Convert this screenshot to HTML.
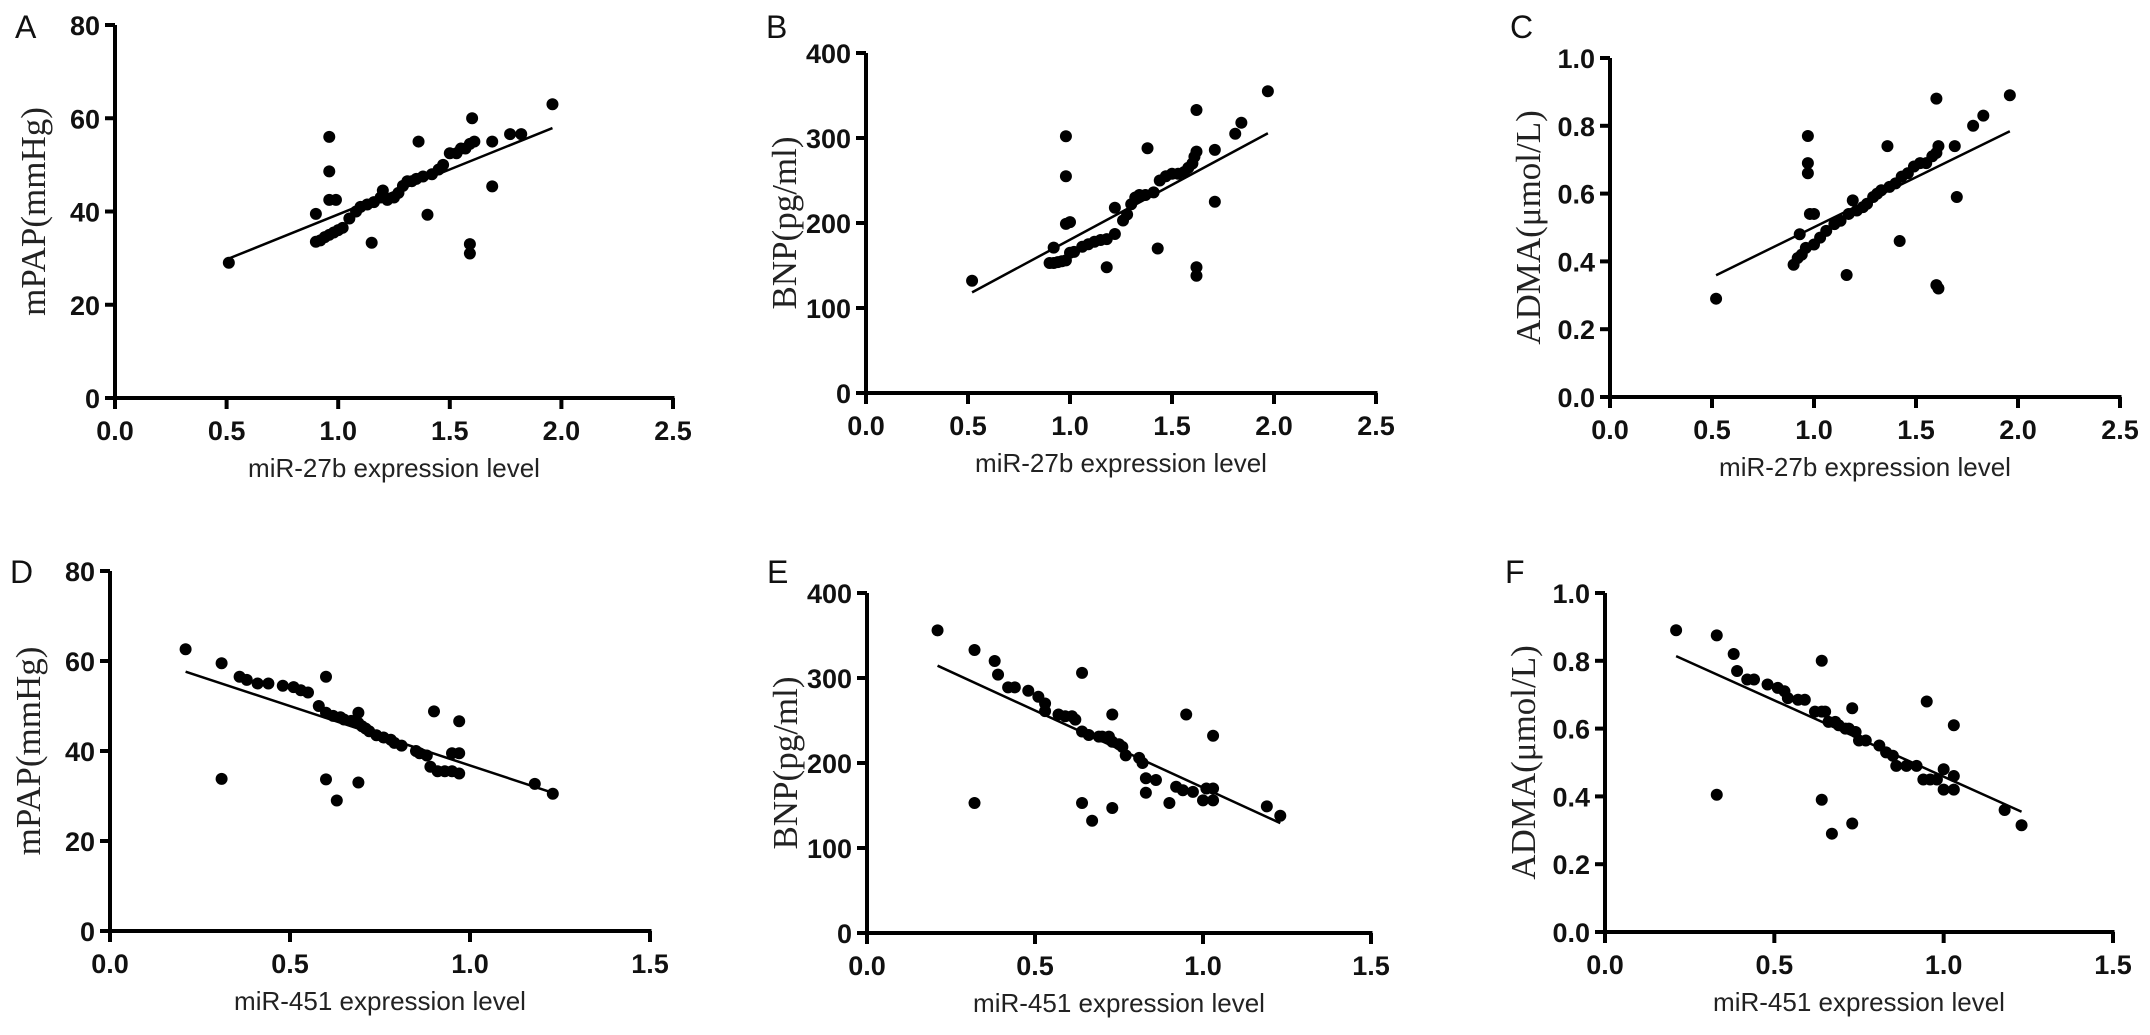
<!DOCTYPE html>
<html><head><meta charset="utf-8">
<style>
html,body{margin:0;padding:0;background:#fff;}
svg{display:block;}
.tick{font-family:"Liberation Sans",Arial,sans-serif;font-weight:bold;font-size:27px;fill:#111;}
.xt{font-family:"Liberation Sans",Arial,sans-serif;font-size:26px;fill:#222;}
.yt{font-family:"Liberation Serif","Times New Roman",serif;font-size:35px;fill:#222;}
.pl{font-family:"Liberation Sans",Arial,sans-serif;font-size:32px;fill:#111;}
</style></head>
<body>
<svg id="fig" width="2150" height="1035" viewBox="0 0 2150 1035" xmlns="http://www.w3.org/2000/svg"></svg>
<script>
// ---- data ----
const xTicks27b = ["0.0","0.5","1.0","1.5","2.0","2.5"];
const xTicks451 = ["0.0","0.5","1.0","1.5"];
const yTicksMPAP = ["0","20","40","60","80"];
const yTicksBNP = ["0","100","200","300","400"];
const yTicksADMA = ["0.0","0.2","0.4","0.6","0.8","1.0"];

const aX = [0.51,0.90,0.90,0.92,0.94,0.96,0.98,1.0,0.96,0.96,0.96,0.99,1.02,1.05,1.08,1.10,1.13,1.15,1.16,1.19,1.20,1.22,1.25,1.27,1.29,1.31,1.33,1.35,1.36,1.38,1.40,1.42,1.45,1.47,1.50,1.53,1.55,1.57,1.59,1.60,1.61,1.59,1.59,1.69,1.69,1.77,1.82,1.96];
const aY = [29,39.5,33.5,33.8,34.5,35,35.5,36,56,48.6,42.5,42.5,36.5,38.5,40,41,41.5,33.3,42,43,44.5,42.5,43,44,45.5,46.5,46.5,47,55,47.5,39.3,48,49,50,52.5,52.5,53.5,53.5,54.5,60,55,33,31,55,45.4,56.6,56.6,63];

const bX = [0.52,0.92,0.90,0.92,0.94,0.96,0.98,0.98,0.98,0.98,1.0,1.0,1.02,1.06,1.09,1.12,1.15,1.18,1.18,1.22,1.22,1.26,1.28,1.30,1.32,1.34,1.37,1.38,1.41,1.43,1.44,1.47,1.50,1.53,1.56,1.58,1.60,1.61,1.62,1.62,1.62,1.62,1.71,1.71,1.81,1.84,1.97];
const bY = [132,171,153,153,154,155,156,302,255,199,201,165,166,172,175,178,180,181,148,187,218,203,210,222,230,233,233,288,236,170,250,255,258,258,260,265,270,278,284,333,148,138,286,225,305,318,355];

const cX = [0.52,0.90,0.92,0.94,0.96,0.93,0.97,0.97,0.97,0.98,1.00,1.00,1.03,1.06,1.10,1.13,1.16,1.17,1.19,1.21,1.24,1.26,1.29,1.31,1.33,1.36,1.37,1.40,1.42,1.43,1.46,1.49,1.52,1.55,1.58,1.60,1.61,1.60,1.60,1.61,1.69,1.70,1.78,1.83,1.96];
const cY = [0.29,0.39,0.41,0.42,0.44,0.48,0.77,0.69,0.66,0.54,0.54,0.45,0.47,0.49,0.51,0.52,0.36,0.54,0.58,0.55,0.56,0.57,0.59,0.60,0.61,0.74,0.62,0.63,0.46,0.65,0.66,0.68,0.69,0.69,0.71,0.72,0.74,0.88,0.33,0.32,0.74,0.59,0.80,0.83,0.89];

const dX = [0.21,0.31,0.31,0.36,0.38,0.41,0.44,0.48,0.51,0.53,0.55,0.58,0.60,0.60,0.62,0.64,0.65,0.67,0.69,0.69,0.70,0.71,0.72,0.74,0.76,0.78,0.79,0.81,0.85,0.86,0.88,0.90,0.89,0.91,0.93,0.95,0.97,0.95,0.97,0.97,0.60,0.69,0.63,1.18,1.23];
const dY = [62.6,59.5,33.8,56.5,55.8,55,55,54.5,54.2,53.5,53,50,56.5,48.5,47.8,47.5,47,46.7,46.2,48.5,45.5,45,44.4,43.5,43,42.5,41.8,41.2,40,39.5,39,48.8,36.5,35.5,35.5,35.5,35,39.5,39.5,46.6,33.7,33,29,32.7,30.5];

const eX = [0.21,0.32,0.32,0.38,0.39,0.42,0.44,0.48,0.51,0.53,0.53,0.57,0.59,0.61,0.62,0.64,0.64,0.67,0.64,0.66,0.69,0.70,0.72,0.73,0.73,0.73,0.75,0.76,0.77,0.81,0.82,0.83,0.86,0.83,0.90,0.92,0.94,0.95,0.97,1.0,1.01,1.03,1.03,1.03,1.19,1.23];
const eY = [356,333,153,320,304,289,289,285,278,270,261,257,255,255,251,306,153,132,237,233,231,231,231,257,147,225,222,219,209,206,200,182,180,165,153,172,168,257,166,156,170,170,156,232,149,138];

const fX = [0.21,0.33,0.33,0.38,0.39,0.42,0.44,0.48,0.51,0.53,0.54,0.57,0.59,0.62,0.64,0.65,0.64,0.64,0.66,0.68,0.69,0.67,0.71,0.72,0.74,0.73,0.73,0.75,0.77,0.81,0.83,0.85,0.86,0.89,0.92,0.94,0.96,0.98,0.95,1.0,1.0,1.03,1.03,1.03,1.18,1.23];
const fY = [0.89,0.875,0.405,0.82,0.77,0.745,0.745,0.73,0.72,0.71,0.69,0.685,0.685,0.65,0.65,0.65,0.80,0.39,0.62,0.62,0.61,0.29,0.60,0.60,0.59,0.66,0.32,0.565,0.565,0.55,0.53,0.52,0.49,0.49,0.49,0.45,0.45,0.45,0.68,0.48,0.42,0.42,0.46,0.61,0.36,0.315];

// ---- layout ----
const NS = "http://www.w3.org/2000/svg";
const svg = document.getElementById("fig");
function mk(tag, attrs, parent, text){
  const e = document.createElementNS(NS, tag);
  for (const k in attrs) e.setAttribute(k, attrs[k]);
  if (text !== undefined) e.textContent = text;
  (parent || svg).appendChild(e);
  return e;
}

const panels = [
  {id:"a", letter:"A", xs:aX, ys:aY, xt:xTicks27b, yt:yTicksMPAP, x0:115, x1:673, yTop:25,  yBot:398, ytitle:"mPAP(mmHg)", xtitle:"miR-27b expression level", ly:27},
  {id:"b", letter:"B", xs:bX, ys:bY, xt:xTicks27b, yt:yTicksBNP,  x0:866, x1:1376, yTop:53, yBot:393, ytitle:"BNP(pg/ml)", xtitle:"miR-27b expression level", ly:27},
  {id:"c", letter:"C", xs:cX, ys:cY, xt:xTicks27b, yt:yTicksADMA, x0:1610, x1:2120, yTop:58, yBot:397, ytitle:"ADMA(μmol/L)", xtitle:"miR-27b expression level", ly:27},
  {id:"d", letter:"D", xs:dX, ys:dY, xt:xTicks451, yt:yTicksMPAP, x0:110, x1:650, yTop:571, yBot:931, ytitle:"mPAP(mmHg)", xtitle:"miR-451 expression level", ly:572},
  {id:"e", letter:"E", xs:eX, ys:eY, xt:xTicks451, yt:yTicksBNP,  x0:867, x1:1371, yTop:593, yBot:933, ytitle:"BNP(pg/ml)", xtitle:"miR-451 expression level", ly:572},
  {id:"f", letter:"F", xs:fX, ys:fY, xt:xTicks451, yt:yTicksADMA, x0:1605, x1:2113, yTop:593, yBot:932, ytitle:"ADMA(μmol/L)", xtitle:"miR-451 expression level", ly:572}
];

panels.forEach(p => {
  const g = mk("g", {});
  
  
  const xMax = parseFloat(p.xt[p.xt.length-1]), yMax = parseFloat(p.yt[p.yt.length-1]);
  const sx = v => p.x0 + (v / xMax) * (p.x1 - p.x0);
  const sy = v => p.yBot - (v / yMax) * (p.yBot - p.yTop);

  const L = mk("text", {x:p.x0-100, y:p.ly+11, class:"pl"}, g, p.letter);
  
  

  const ya = mk("line", {x1:p.x0, y1:p.yTop, x2:p.x0, y2:p.yBot+1.5, stroke:"#000", "stroke-width":4}, g);
  
  
  const xa = mk("line", {x1:p.x0-10, y1:p.yBot, x2:p.x1+1.5, y2:p.yBot, stroke:"#000", "stroke-width":4}, g);
  
  

  p.yt.forEach(t => {
    const y = sy(parseFloat(t));
    mk("line", {x1:p.x0-10, y1:y, x2:p.x0, y2:y, stroke:"#000", "stroke-width":4}, g);
    const tl = mk("text", {x:p.x0-15, y:y+10, "text-anchor":"end", class:"tick"}, g, t);
    
    
  });
  p.xt.forEach(t => {
    const x = sx(parseFloat(t));
    mk("line", {x1:x, y1:p.yBot, x2:x, y2:p.yBot+11, stroke:"#000", "stroke-width":4}, g);
    const tl = mk("text", {x:x, y:p.yBot+42, "text-anchor":"middle", class:"tick"}, g, t);
    
    
  });

  const xt = mk("text", {x:(p.x0+p.x1)/2, y:p.yBot+79, "text-anchor":"middle", class:"xt"}, g, p.xtitle);
  
  
  const cy = (p.yTop + p.yBot)/2, cx = p.x0 - 82;
  const yt = mk("text", {x:cx, y:cy, "text-anchor":"middle", class:"yt", transform:`rotate(-90 ${cx} ${cy}) translate(0 12)`}, g, p.ytitle);
  
  

  // regression line from data
  const n = p.xs.length;
  let mx=0,my=0; for (let i=0;i<n;i++){mx+=p.xs[i];my+=p.ys[i];} mx/=n; my/=n;
  let sxy=0,sxx=0; for (let i=0;i<n;i++){sxy+=(p.xs[i]-mx)*(p.ys[i]-my);sxx+=(p.xs[i]-mx)**2;}
  const slope=sxy/sxx, icpt=my-slope*mx;
  const xmin=Math.min(...p.xs), xmax=Math.max(...p.xs);
  const rl = mk("line", {x1:sx(xmin), y1:sy(icpt+slope*xmin), x2:sx(xmax), y2:sy(icpt+slope*xmax), stroke:"#000", "stroke-width":2.5}, g);
  
  

  for (let i=0;i<n;i++){
    const c = mk("circle", {cx:sx(p.xs[i]), cy:sy(p.ys[i]), r:6, fill:"#000"}, g);
    
    
  }
});
</script>
</body></html>
